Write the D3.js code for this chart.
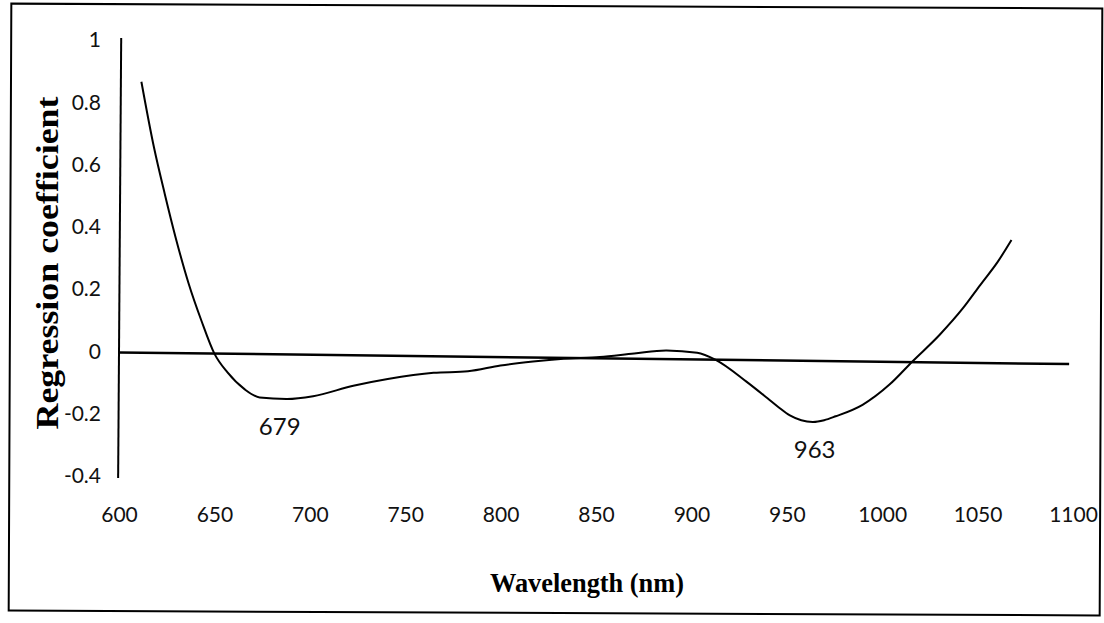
<!DOCTYPE html>
<html>
<head>
<meta charset="utf-8">
<script src="https://cdn.jsdelivr.net/npm/d3@7"></script>
<style>
  body { margin: 0; background: #fff; }
  svg { display: block; }
</style>
</head>
<body>
<div id="chart"></div>
<script>
// wavelength (nm) and PLS regression coefficient
const wavelengths = [610, 617, 623, 629, 636, 643, 650, 657, 666, 674, 688, 702, 723, 741, 765, 783, 800, 817, 833, 852, 870, 887, 903, 913, 929, 940, 946, 952, 958, 964, 970, 976, 990, 1004, 1016, 1030, 1042, 1051, 1060, 1067];
const coefficients = [0.87, 0.66, 0.51, 0.37, 0.225, 0.105, 0.0, -0.06, -0.113, -0.139, -0.143, -0.133, -0.098, -0.075, -0.053, -0.047, -0.027, -0.013, -0.003, 0.004, 0.017, 0.028, 0.022, -0.001, -0.069, -0.121, -0.150, -0.176, -0.191, -0.196, -0.190, -0.177, -0.139, -0.073, 0.003, 0.089, 0.175, 0.251, 0.326, 0.396];
const xTicks = [600, 650, 700, 750, 800, 850, 900, 950, 1000, 1050, 1100];
const yTicks = [-0.4, -0.2, 0, 0.2, 0.4, 0.6, 0.8, 1];
const peaks = [679, 963];
const peakLabelY = [-0.265, -0.34];

const w = 1104;
const h = 623;

const dataset = wavelengths.map((d, i) => [d, coefficients[i]]);

const xScale = d3.scaleLinear()
                 .domain([600, 1100])
                 .range([119, 1073]);
const yScale = d3.scaleLinear()
                 .domain([-0.4, 1])
                 .range([477, 41]);

const svg = d3.select("#chart")
              .append("svg")
              .attr("width", w)
              .attr("height", h);

svg.append("rect")
   .attr("width", w).attr("height", h)
   .attr("fill", "#fff");

// outer frame (scan is slightly skewed)
svg.append("rect")
   .attr("x", 10).attr("y", 6)
   .attr("width", 1091).attr("height", 607)
   .attr("fill", "none")
   .attr("stroke", "#000")
   .attr("stroke-width", 2)
   .attr("transform", "rotate(0.25, 555, 310)");

const pivot = xScale(600) + ", " + yScale(0);

// vertical axis line
svg.append("line")
   .attr("x1", xScale(600)).attr("x2", xScale(600))
   .attr("y1", yScale(1) - 3).attr("y2", yScale(-0.4) + 1)
   .attr("stroke", "#000")
   .attr("stroke-width", 2)
   .attr("transform", "rotate(0.4, " + pivot + ")");

// plot marks, rotated a little like the scan
const plot = svg.append("g")
                .attr("transform", "rotate(0.7, " + pivot + ")");

plot.append("line")
    .attr("x1", xScale(600)).attr("x2", xScale(1098))
    .attr("y1", yScale(0)).attr("y2", yScale(0))
    .attr("stroke", "#000")
    .attr("stroke-width", 2.5);

const line = d3.line()
               .x(d => xScale(d[0]))
               .y(d => yScale(d[1]))
               .curve(d3.curveMonotoneX);

plot.append("path")
    .datum(dataset)
    .attr("d", line)
    .attr("fill", "none")
    .attr("stroke", "#000")
    .attr("stroke-width", 2);

// tick labels
const xAxis = d3.axisBottom(xScale)
                .tickValues(xTicks)
                .tickSize(0)
                .tickPadding(0)
                .tickFormat(d => d);
const yAxis = d3.axisLeft(yScale)
                .tickValues(yTicks)
                .tickSize(0)
                .tickPadding(18)
                .tickFormat(d => d);

const gx = svg.append("g")
   .attr("transform", "translate(0,507)")
   .attr('id', 'x-axis')
   .call(xAxis);
const gy = svg.append("g")
   .attr("transform", "translate(" + xScale(600) + ",-1)")
   .attr('id', 'y-axis')
   .call(yAxis);

[gx, gy].forEach(g => {
  g.select(".domain").remove();
  g.selectAll("text")
   .attr("fill", "#111")
   .style("font-family", "Lato, 'Open Sans', sans-serif")
   .style("font-size", "21px");
});

// peak annotations
svg.selectAll(".peak")
   .data(peaks)
   .enter()
   .append("text")
   .attr("class", "peak")
   .attr("x", (d, i) => xScale(d) + (i === 0 ? 10 : 3))
   .attr("y", (d, i) => yScale(peakLabelY[i]))
   .attr("text-anchor", "middle")
   .attr("fill", "#111")
   .style("font-family", "Lato, 'Open Sans', sans-serif")
   .style("font-size", "24px")
   .text(d => d);

// axis titles
svg.append("text")
   .attr("transform", "translate(58,263) rotate(-90)")
   .attr("text-anchor", "middle")
   .attr("textLength", 333)
   .attr("lengthAdjust", "spacingAndGlyphs")
   .style("font-family", "'Liberation Serif', 'Times New Roman', serif")
   .style("font-weight", "bold")
   .style("font-size", "31px")
   .text("Regression coefficient");

svg.append("text")
   .attr("x", 587)
   .attr("y", 592)
   .attr("text-anchor", "middle")
   .attr("textLength", 194)
   .attr("lengthAdjust", "spacingAndGlyphs")
   .style("font-family", "'Liberation Serif', 'Times New Roman', serif")
   .style("font-weight", "bold")
   .style("font-size", "28px")
   .text("Wavelength (nm)");
</script>
</body>
</html>
